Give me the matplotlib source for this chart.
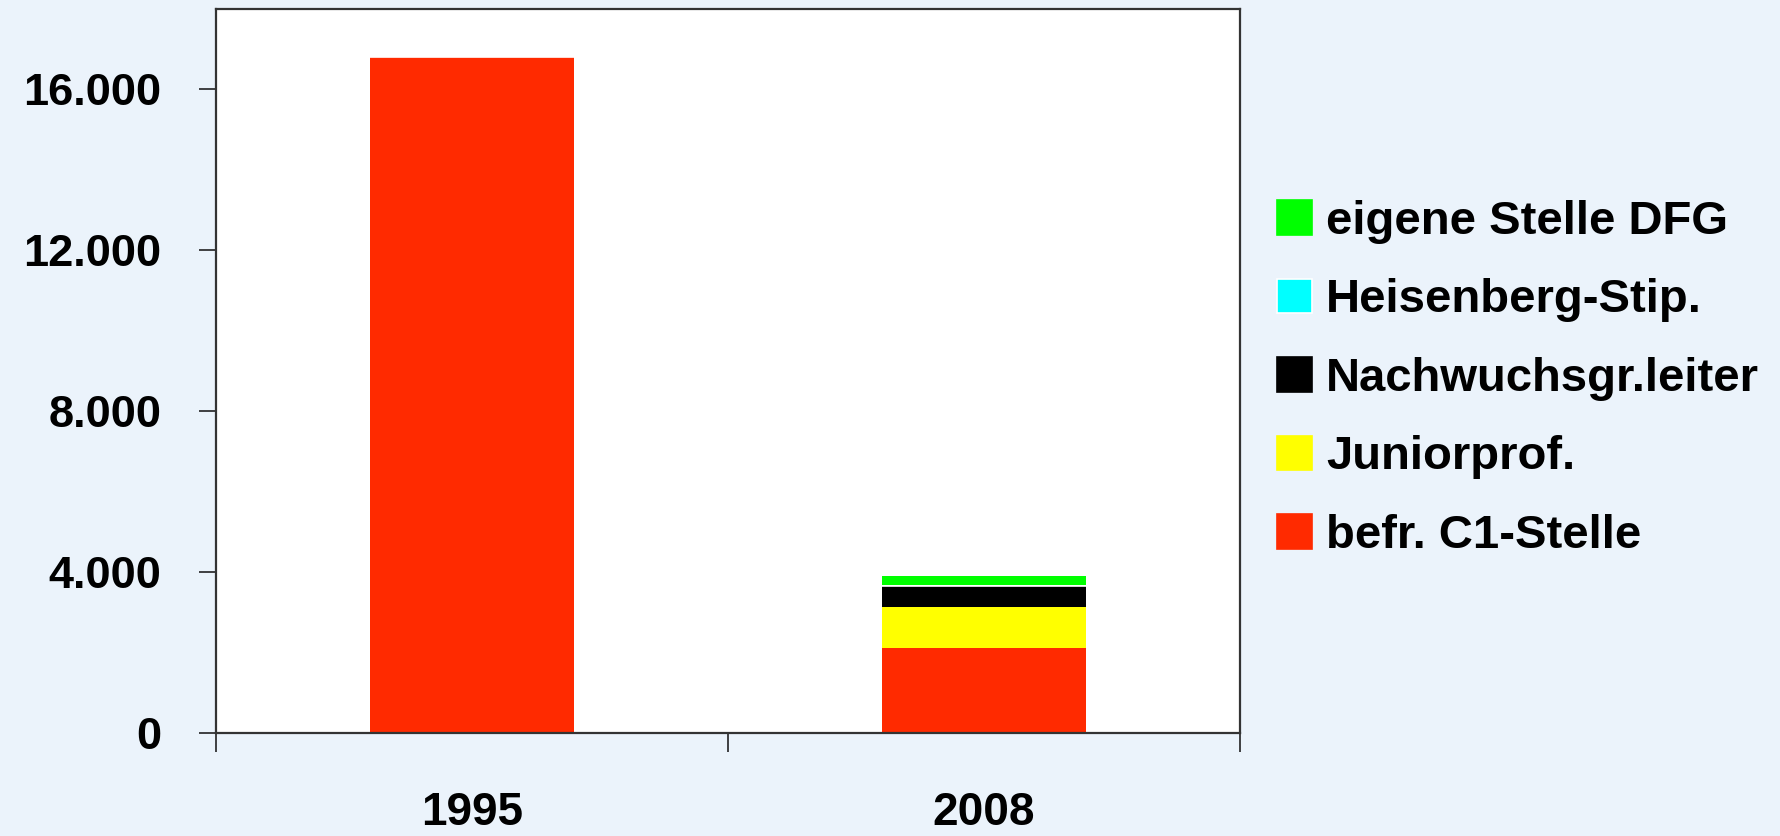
import matplotlib
matplotlib.use("Agg")
import matplotlib.pyplot as plt
from matplotlib.patches import Patch

years = ["1995", "2008"]
befr_c1 = [16800, 2110]
juniorprof = [0, 1020]
nachwuchs = [0, 520]
heisenberg = [0, 30]
eigene_dfg = [0, 220]

series_names = ["befr. C1-Stelle", "Juniorprof.", "Nachwuchsgr.leiter",
                "Heisenberg-Stip.", "eigene Stelle DFG"]
series_values = [befr_c1, juniorprof, nachwuchs, heisenberg, eigene_dfg]
series_colors = ["#FF2A00", "#FFFF00", "#000000", "#00FFFF", "#00FF00"]
series_edges = ["none", "none", "none", "white", "none"]

yticks = [0, 4000, 8000, 12000, 16000]
ytick_labels = ["0", "4.000", "8.000", "12.000", "16.000"]

BG = "#EBF3FB"
fam = ["Liberation Sans", "DejaVu Sans"]

fig = plt.figure(figsize=(17.8, 8.36), dpi=100, facecolor=BG)
ax = fig.add_axes([216/1780, 1-733/836, (1240-216)/1780, (733-9)/836])
ax.set_facecolor("white")

x = list(range(len(years)))
bottom = [0]*len(years)
for name, vals, col, ec in zip(series_names, series_values, series_colors, series_edges):
    ax.bar(x, vals, width=0.4, bottom=bottom, color=col,
           edgecolor=ec, linewidth=1.2 if ec != "none" else 0, label=name)
    bottom = [b+v for b, v in zip(bottom, vals)]

ax.set_xlim(-0.5, 1.5)
ax.set_ylim(0, 18000)
ax.set_yticks(yticks)
ax.set_yticklabels(ytick_labels, fontsize=32.5, fontweight="bold", family=fam)
ax.set_xticks(x)
ax.set_xticklabels(years, fontsize=33, fontweight="bold", family=fam)
ax.set_xticks([-0.5, 0.5, 1.5], minor=True)
ax.tick_params(axis="x", which="major", length=0, pad=42)
ax.tick_params(axis="x", which="minor", length=14, width=1.2, direction="out", color="#222222")
ax.tick_params(axis="y", length=12.5, width=1.2, direction="out", pad=27, color="#222222")
for s in ax.spines.values():
    s.set_color("#333333")
    s.set_linewidth(1.6)

handles = [Patch(facecolor=c, edgecolor=(e if e != "none" else c), linewidth=1.2)
           for c, e in zip(series_colors, series_edges)]
leg = fig.legend(handles[::-1], series_names[::-1], loc="upper left",
                 bbox_to_anchor=(1277/1780, 1-200/836), frameon=False,
                 prop={"family": fam, "weight": "bold", "size": 34},
                 handlelength=0.74, handleheight=0.74, handletextpad=0.3,
                 labelspacing=0.73, borderpad=0, borderaxespad=0)

fig.savefig("out.png", dpi=100, facecolor=BG)
